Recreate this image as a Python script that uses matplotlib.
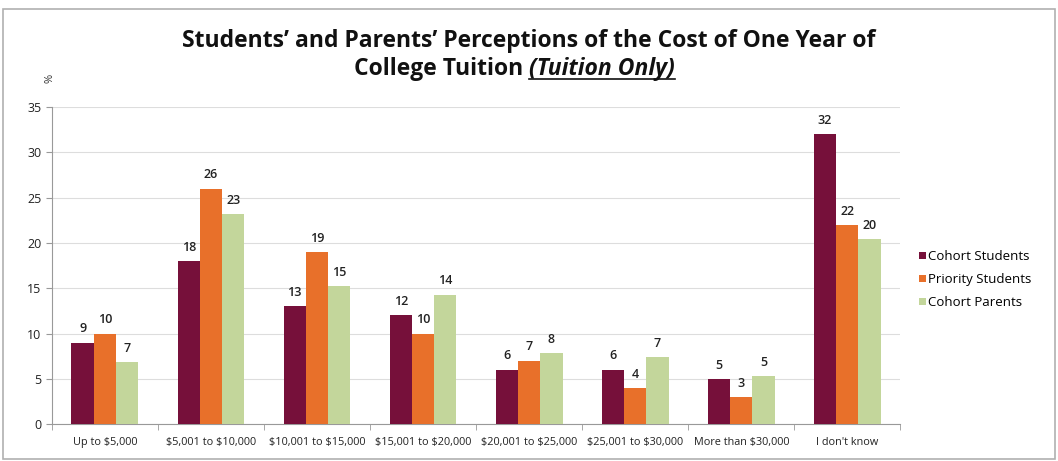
import numpy as np
import matplotlib.pyplot as plt
from matplotlib.patches import Rectangle

plt.rcParams['font.family'] = ['Open Sans', 'DejaVu Sans']
plt.rcParams['text.parse_math'] = False

# 数据
categories = ['Up to $5,000', '$5,001 to $10,000', '$10,001 to $15,000', '$15,001 to $20,000',
              '$20,001 to $25,000', '$25,001 to $30,000', 'More than $30,000', "I don't know"]
cohort_students = [9, 18, 13, 12, 6, 6, 5, 32]
priority_students = [10, 26, 19, 10, 7, 4, 3, 22]
cohort_parents = [6.8, 23.2, 15.2, 14.3, 7.8, 7.4, 5.3, 20.4]
series_names = ['Cohort Students', 'Priority Students', 'Cohort Parents']
colors = ['#76103a', '#e8702a', '#c3d69b']

fig = plt.figure(figsize=(10.58, 4.61), dpi=100)
ax = fig.add_axes([0.049, 0.080, 0.802, 0.688])

# 外框
fig.patches.append(Rectangle((0.003, 0.005), 0.994, 0.975, transform=fig.transFigure,
                             fill=False, edgecolor='#b0b0b0', linewidth=1.2))

x = np.arange(len(categories))
w = 0.21
for i, (vals, name, c) in enumerate(zip([cohort_students, priority_students, cohort_parents],
                                         series_names, colors)):
    pos = x + (i - 1) * w
    ax.bar(pos, vals, width=w, color=c, label=name, zorder=3)
    for px, v in zip(pos, vals):
        ax.text(px, v + 0.8, '%d' % round(v), ha='center', va='bottom', fontsize=9,
                fontweight='semibold', color='#222222')

ax.set_xlim(-0.5, len(categories) - 0.5)
ax.set_ylim(0, 35)
ax.set_yticks(range(0, 36, 5))
ax.yaxis.grid(True, color='#dddddd', linewidth=0.8, zorder=0)
ax.set_xticks(x)
ax.set_xticklabels(categories, fontsize=7.8, color='#222222')
ax.set_xticks(np.arange(len(categories) + 1) - 0.5, minor=True)
ax.tick_params(axis='x', which='major', length=0, pad=9)
ax.tick_params(axis='x', which='minor', length=4, color='#999999')
ax.tick_params(axis='y', labelsize=9, length=4, color='#999999', labelcolor='#222222')
for s in ['top', 'right']:
    ax.spines[s].set_visible(False)
for s in ['left', 'bottom']:
    ax.spines[s].set_color('#999999')

leg = ax.legend(loc='center left', bbox_to_anchor=(1.008, 0.455), frameon=False, fontsize=9.5,
                handlelength=0.5, handleheight=0.5, handletextpad=0.2, labelspacing=0.75)

# 标题
fig.text(0.5, 0.912, "Students\u2019 and Parents\u2019 Perceptions of the Cost of One Year of",
         ha='center', va='center', fontsize=16.5, fontweight='bold', color='#111111')
t1 = fig.text(0.5, 0.850, "College Tuition ", ha='right', va='center', fontsize=16.5,
              fontweight='bold', color='#111111')
t2 = fig.text(0.5, 0.850, "(Tuition Only)", ha='left', va='center', fontsize=16.5,
              fontweight='bold', fontstyle='italic', color='#111111')
fig.canvas.draw()
bb = t2.get_window_extent().transformed(fig.transFigure.inverted())
fig.add_artist(plt.Line2D([bb.x0, bb.x1], [bb.y0 + 0.004, bb.y0 + 0.004], transform=fig.transFigure,
                          color='#111111', linewidth=1.2))
fig.text(0.047, 0.83, '%', ha='center', va='center', fontsize=8, rotation=90, color='#333333')

fig.savefig('out.png', dpi=100)
